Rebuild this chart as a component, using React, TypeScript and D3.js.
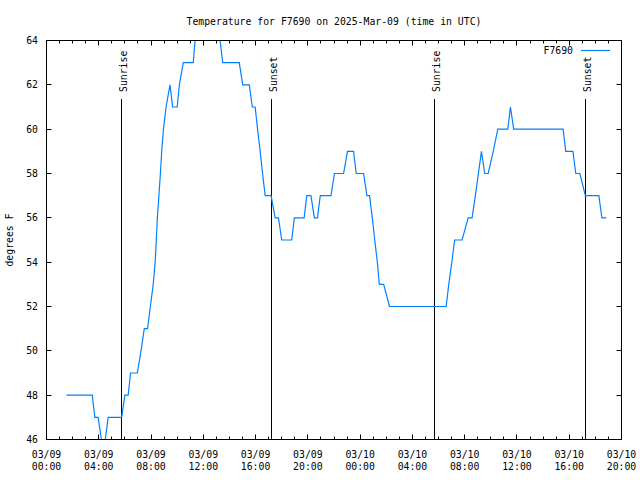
import React from "react";
import * as d3 from "d3";

const title = "Temperature for F7690 on 2025-Mar-09 (time in UTC)";
const seriesName = "F7690";
const yLabel = "degrees F";

const readingTimes = [
  "2025-03-09T01:32", "2025-03-09T03:30", "2025-03-09T03:42", "2025-03-09T03:57", "2025-03-09T04:12",
  "2025-03-09T04:23", "2025-03-09T04:30", "2025-03-09T04:43", "2025-03-09T05:45", "2025-03-09T06:00",
  "2025-03-09T06:15", "2025-03-09T06:26", "2025-03-09T06:57", "2025-03-09T07:14", "2025-03-09T07:29",
  "2025-03-09T07:44", "2025-03-09T07:57", "2025-03-09T08:10", "2025-03-09T08:19", "2025-03-09T08:24",
  "2025-03-09T08:29", "2025-03-09T08:36", "2025-03-09T08:43", "2025-03-09T08:49", "2025-03-09T08:57",
  "2025-03-09T09:09", "2025-03-09T09:27", "2025-03-09T09:39", "2025-03-09T10:00", "2025-03-09T10:10",
  "2025-03-09T10:28", "2025-03-09T11:14", "2025-03-09T11:22", "2025-03-09T11:36", "2025-03-09T13:03",
  "2025-03-09T13:17", "2025-03-09T13:29", "2025-03-09T14:45", "2025-03-09T15:01", "2025-03-09T15:31",
  "2025-03-09T15:45", "2025-03-09T15:58", "2025-03-09T16:09", "2025-03-09T16:21", "2025-03-09T16:32",
  "2025-03-09T16:44", "2025-03-09T17:11", "2025-03-09T17:30", "2025-03-09T17:45", "2025-03-09T18:00",
  "2025-03-09T18:46", "2025-03-09T18:58", "2025-03-09T19:43", "2025-03-09T19:55", "2025-03-09T20:14",
  "2025-03-09T20:30", "2025-03-09T20:44", "2025-03-09T20:57", "2025-03-09T21:46", "2025-03-09T22:02",
  "2025-03-09T22:44", "2025-03-09T23:02", "2025-03-09T23:30", "2025-03-09T23:42", "2025-03-10T00:16",
  "2025-03-10T00:31", "2025-03-10T00:43", "2025-03-10T00:56", "2025-03-10T01:07", "2025-03-10T01:19",
  "2025-03-10T01:28", "2025-03-10T01:48", "2025-03-10T02:15", "2025-03-10T06:35", "2025-03-10T06:47",
  "2025-03-10T07:01", "2025-03-10T07:14", "2025-03-10T07:48", "2025-03-10T08:16", "2025-03-10T08:34",
  "2025-03-10T08:49", "2025-03-10T09:03", "2025-03-10T09:17", "2025-03-10T09:32", "2025-03-10T09:48",
  "2025-03-10T10:11", "2025-03-10T10:32", "2025-03-10T11:18", "2025-03-10T11:30", "2025-03-10T11:45",
  "2025-03-10T15:32", "2025-03-10T15:44", "2025-03-10T16:17", "2025-03-10T16:30", "2025-03-10T16:49",
  "2025-03-10T17:14", "2025-03-10T18:16", "2025-03-10T18:30", "2025-03-10T18:50",
];

const readingValues = [
  48, 48, 47, 47, 46,
  45, 46, 47, 47, 48,
  48, 49, 49, 50, 51,
  51, 52, 53, 54, 55,
  56, 57, 58, 59, 60,
  61, 62, 61, 61, 62,
  63, 63, 64, 65, 65,
  64, 63, 63, 62, 62,
  61, 61, 60, 59, 58,
  57, 57, 56, 56, 55,
  55, 56, 56, 57, 57,
  56, 56, 57, 57, 58,
  58, 59, 59, 58, 58,
  57, 57, 56, 55, 54,
  53, 53, 52, 52, 53,
  54, 55, 55, 56, 56,
  57, 58, 59, 58, 58,
  59, 60, 60, 61, 60,
  60, 59, 59, 58, 58,
  57, 57, 56, 56,
];

const eventTimes = ["2025-03-09T05:43", "2025-03-09T17:13", "2025-03-10T05:42", "2025-03-10T17:16"];
const eventLabels = ["Sunrise", "Sunset", "Sunrise", "Sunset"];

const xDomain = ["2025-03-09T00:00", "2025-03-10T20:00"];
const yDomain = [46, 64];
const yTickValues = [46, 48, 50, 52, 54, 56, 58, 60, 62, 64];

const parse = d3.utcParse("%Y-%m-%dT%H:%M");
const FONT = "'DejaVu Sans Mono', 'Liberation Mono', monospace";
const FS = 9.8;
const LINE_COLOR = "#0080ff";

export default function App() {
  const W = 640, H = 480;
  const L = 46.5, R = 621.5, T = 40.5, B = 439.5;

  const x = d3.scaleUtc().domain(xDomain.map((s) => parse(s) as Date)).range([L, R]);
  const y = d3.scaleLinear().domain(yDomain).range([B, T]);

  const data = readingTimes.map((t, i) => ({ t: parse(t) as Date, v: readingValues[i] }));
  const line = d3.line<{ t: Date; v: number }>().x((d) => x(d.t)).y((d) => y(d.v));

  const majorX = x.ticks(d3.utcHour.every(4) as any);
  const minorX = x.ticks(d3.utcHour.every(1) as any);
  const fmtDate = d3.utcFormat("%m/%d");
  const fmtTime = d3.utcFormat("%H:%M");

  const crisp = (v: number) => Math.round(v - 0.5) + 0.5;

  return (
    <svg width={W} height={H} style={{ position: "absolute", left: 0, top: 0, background: "#fff" }}
      fontFamily={FONT} fontSize={FS}>
      <rect x={0} y={0} width={W} height={H} fill="#fff" />
      <defs>
        <clipPath id="plotClip">
          <rect x={L} y={T} width={R - L} height={B - T} />
        </clipPath>
      </defs>

      <text x={(L + R) / 2} y={25} textAnchor="middle" fill="#000">{title}</text>

      {/* minor x ticks */}
      {minorX.map((d, i) => {
        const xx = crisp(x(d));
        return (
          <g key={"mx" + i} stroke="#000" strokeWidth={1}>
            <line x1={xx} x2={xx} y1={B} y2={B - 3} />
            <line x1={xx} x2={xx} y1={T} y2={T + 3} />
          </g>
        );
      })}
      {/* major x ticks + labels */}
      {majorX.map((d, i) => {
        const xx = crisp(x(d));
        return (
          <g key={"Mx" + i}>
            <line x1={xx} x2={xx} y1={B} y2={B - 5} stroke="#000" />
            <line x1={xx} x2={xx} y1={T} y2={T + 5} stroke="#000" />
            <text x={x(d)} y={458} textAnchor="middle" fill="#000">{fmtDate(d)}</text>
            <text x={x(d)} y={470} textAnchor="middle" fill="#000">{fmtTime(d)}</text>
          </g>
        );
      })}
      {/* y ticks */}
      {yTickValues.map((v, i) => {
        const yy = crisp(y(v));
        return (
          <g key={"y" + i}>
            <line x1={L} x2={L + 5} y1={yy} y2={yy} stroke="#000" />
            <line x1={R} x2={R - 5} y1={yy} y2={yy} stroke="#000" />
            <text x={38} y={y(v) + 3.5} textAnchor="end" fill="#000">{v}</text>
          </g>
        );
      })}

      <text transform={`translate(13,${(T + B) / 2}) rotate(-90)`} textAnchor="middle" fill="#000">{yLabel}</text>

      {/* sunrise / sunset */}
      {eventTimes.map((t, i) => {
        const xx = crisp(x(parse(t) as Date));
        return (
          <g key={"e" + i}>
            <line x1={xx} x2={xx} y1={99} y2={B} stroke="#000" />
            <text transform={`translate(${xx + 5.5},92) rotate(-90)`} textAnchor="start" fill="#000">{eventLabels[i]}</text>
          </g>
        );
      })}

      <path d={line(data) || ""} fill="none" stroke={LINE_COLOR} strokeWidth={1.2} clipPath="url(#plotClip)" />

      {/* frame */}
      <rect x={L} y={T} width={R - L} height={B - T} fill="none" stroke="#000" strokeWidth={1} />

      {/* legend */}
      <text x={573} y={54} textAnchor="end" fill="#000">{seriesName}</text>
      <line x1={581} x2={610} y1={50.5} y2={50.5} stroke={LINE_COLOR} strokeWidth={1.2} />
    </svg>
  );
}
